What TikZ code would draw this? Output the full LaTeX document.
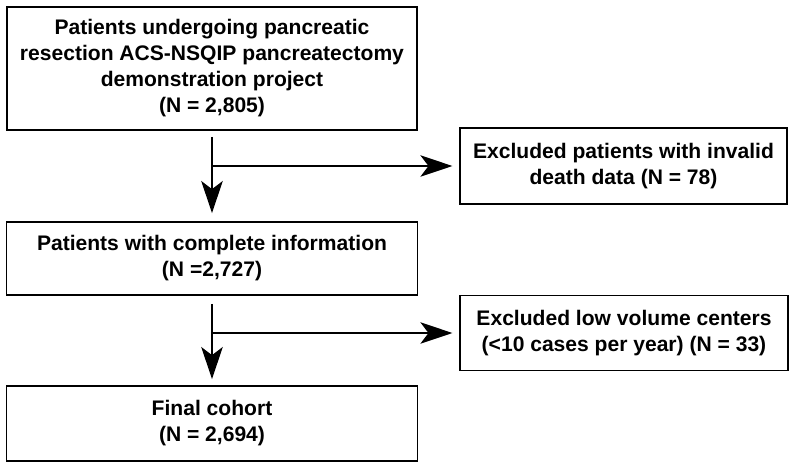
\documentclass[tikz,border=0pt]{standalone}
\usepackage{fontspec}
\setmainfont{Liberation Sans}
\usetikzlibrary{arrows.meta,positioning,calc}
\tikzset{box/.style={draw, line width=1.3pt, align=center, inner sep=0pt,
  font=\fontsize{15.8}{19.5}\selectfont\bfseries},
  flow/.style={line width=2pt, -{Stealth[length=24pt,width=16pt,inset=6pt]}}}

\begin{document}
\begin{tikzpicture}[x=0.75pt, y=-0.75pt]
        \useasboundingbox (0,0) rectangle (795,469);
        \node[box, minimum width=307.5pt, minimum height=92.25pt] (start) at (212, 68.5)
            {Patients undergoing pancreatic\\resection ACS-NSQIP pancreatectomy\\demonstration project\\(N = 2,805)};
        \node[box, minimum width=245.25pt, minimum height=57pt] (invalid) at (623.5, 166)
            {Excluded patients with invalid\\death data (N = 78)};
        \node[box, minimum width=308.25pt, minimum height=54.75pt] (complete) at (212, 258.5)
            {Patients with complete information\\(N =2,727)};
        \node[box, minimum width=246pt, minimum height=56.25pt] (lowvol) at (624, 333)
            {Excluded low volume centers\\(<10 cases per year) (N = 33)};
        \node[box, minimum width=308.25pt, minimum height=56.25pt] (final) at (212, 423.5)
            {Final cohort\\(N = 2,694)};
        
        \coordinate (j1) at (212, 166);
        \coordinate (j2) at (212, 333);
        
        \draw[flow, shorten <=4.5pt, shorten >=6pt] (start) -- (complete);
        \draw[flow, shorten >=5pt] (j1) -- (invalid);
        
        \draw[flow, shorten <=6pt, shorten >=4.5pt] (complete) -- (final);
        \draw[flow, shorten >=5pt] (j2) -- (lowvol);
    \end{tikzpicture}
\end{document}
